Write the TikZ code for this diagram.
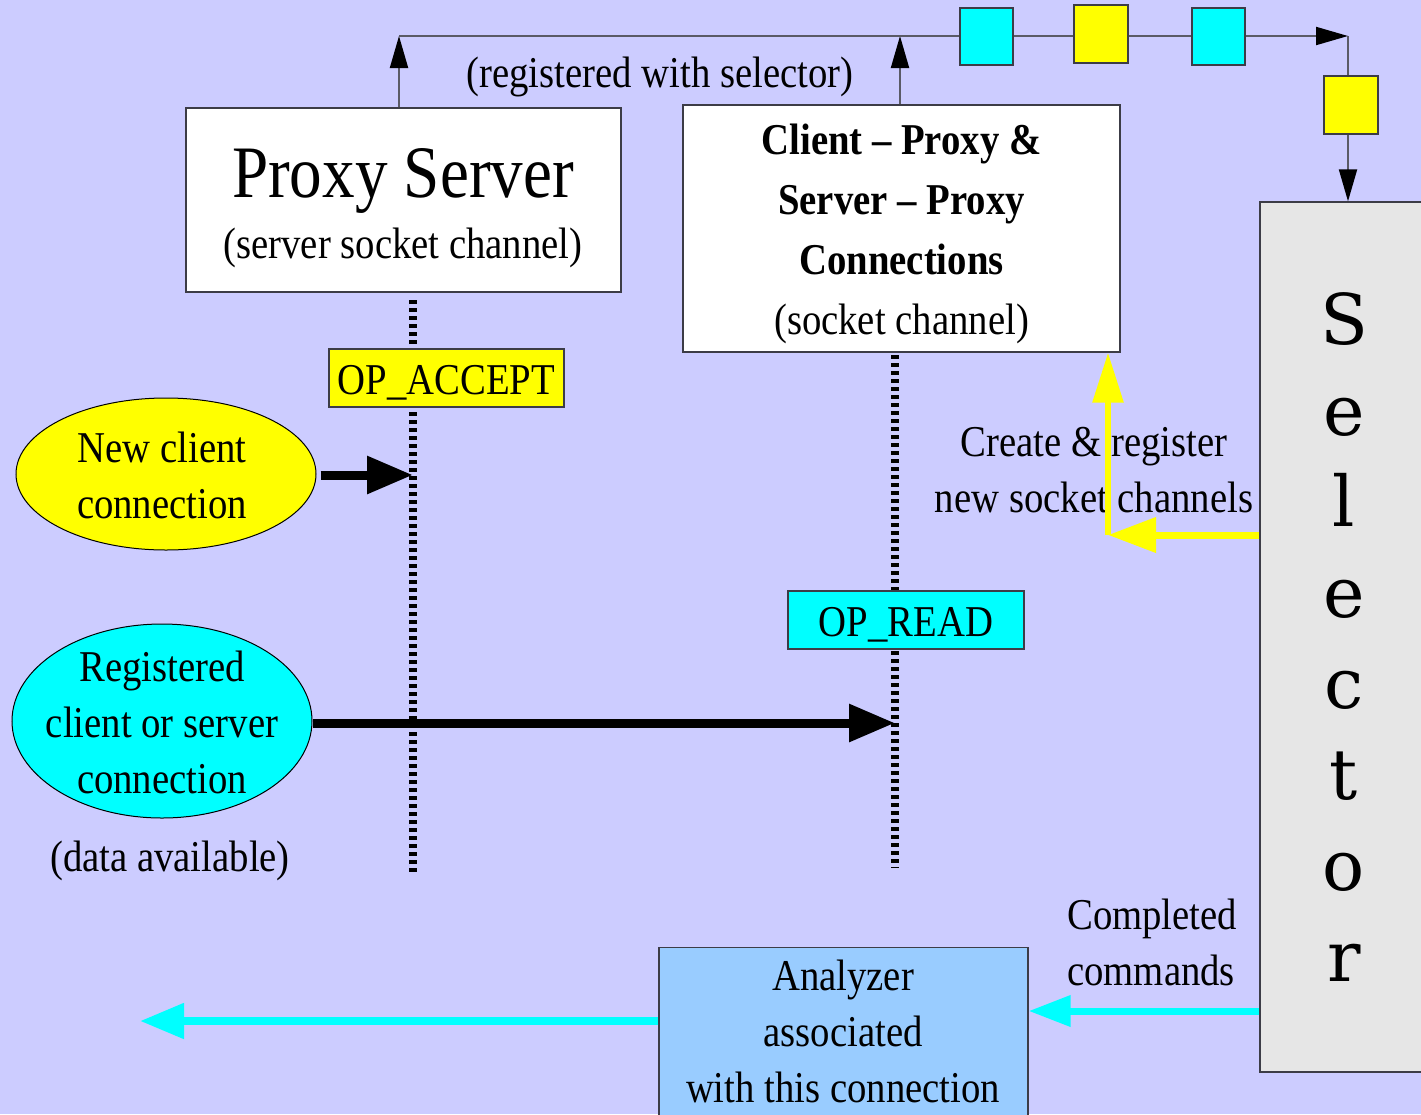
\documentclass[tikz,border=0pt]{standalone}
\usepackage{fontspec}
\setmainfont{Liberation Serif}[FakeStretch=0.88]
\newfontfamily\selfont{DejaVu Serif}
\usetikzlibrary{arrows.meta,shapes.geometric}
\definecolor{bgviolet}{HTML}{CCCCFF}
\definecolor{selgray}{HTML}{E6E6E6}
\definecolor{analyzerblue}{HTML}{99CCFF}
\definecolor{edgegray}{HTML}{3C3C46}
\definecolor{wiregray}{HTML}{5A5A66}
\definecolor{aqua}{HTML}{00FFFF}
\definecolor{lemon}{HTML}{FFFF00}
\tikzset{
  txt/.style={font=\fontsize{44}{56}\selectfont, inner sep=0pt, align=center},
  panel/.style={draw=edgegray, line width=1.3pt, inner sep=0pt},
  chip/.style={panel, minimum width=53pt, minimum height=57pt},
  optag/.style={panel, minimum width=236pt, minimum height=58pt},
  blob/.style={ellipse, draw=black, line width=1pt, inner sep=0pt, minimum width=300pt},
  wire/.style={draw=wiregray, line width=2pt, -{Triangle[length=32pt,width=18pt,black]}},
  lifeline/.style={draw=black, line width=8pt, dash pattern=on 4pt off 4pt},
  fat/.style={draw=black, line width=9pt, -{Triangle[length=46pt,width=36pt]}},
  ylw/.style={draw=lemon, line width=7pt},
  cyn/.style={draw=aqua, line width=8pt, -{Triangle[length=44pt,width=34pt]}}
}
\begin{document}
\begin{tikzpicture}[x=1pt,y=-1pt]
\useasboundingbox (0,0) rectangle (1421,1114);
\fill[bgviolet] (0,0) rectangle (1421,1114);

% channels
\node[panel, fill=white, minimum width=435pt, minimum height=184pt] (ps) at (403.5,200) {};
\node[inner sep=0pt, anchor=base, font=\fontsize{74}{80}\selectfont] (pstitle) at (403,197) {Proxy Server};
\node[inner sep=0pt, anchor=base, font=\fontsize{44}{56}\selectfont] (pssub) at (403,258) {(server socket channel)};

\node[panel, fill=white, minimum width=437pt, minimum height=247pt] (cp) at (901.5,228.5) {};
\node[txt, font=\fontsize{44}{60}\selectfont] (cptext) at (901.5,234)
  {\textbf{Client \textendash{} Proxy \&}\\\textbf{Server \textendash{} Proxy}\\\textbf{Connections}\\(socket channel)};

% selector
\node[panel, fill=selgray, minimum width=168pt, minimum height=870pt, align=center,
      font={\selfont\fontsize{70}{91}\selectfont}] (sel) at (1344,637)
  {S\\e\\l\\e\\c\\t\\o\\r};

% analyzer
\node[panel, fill=analyzerblue, anchor=north, minimum width=369pt, minimum height=260pt] (an) at (843.5,947) {};
\node[txt] (antext) at (843,1031) {Analyzer\\associated\\with this connection};

% lifelines
\coordinate (l1top) at (413,300);
\coordinate (l1bot) at (413,873);
\coordinate (l2top) at (895,355);
\coordinate (l2bot) at (895,868);
\draw[lifeline] (l1top) -- (l1bot);
\draw[lifeline] (l2top) -- (l2bot);
\node[optag, fill=lemon, minimum width=235pt] (accept) at (446.5,378) {};
\node[txt, anchor=base] (accepttext) at (446.5,394) {OP\_ACCEPT};
\node[optag, fill=aqua] (read) at (906,620) {};
\node[txt, anchor=base] (readtext) at (906,636) {OP\_READ};

% event sources
\node[blob, fill=lemon, minimum height=152pt] (newc) at (166,474) {};
\node[txt] (newctext) at (162,475) {New client\\connection};
\node[blob, fill=aqua, minimum height=194pt] (regc) at (162,721) {};
\node[txt] (regctext) at (162,722) {Registered\\client or server\\connection};
\node[txt] (avail) at (170,861) {(data available)};

\coordinate (acceptrow) at (0,475);
\coordinate (readrow) at (0,723);
\draw[fat] ([xshift=4pt]newc.east |- acceptrow) -- (l1top |- acceptrow);
\draw[fat] (regc.east |- readrow) -- (l2top |- readrow);

% registration bus
\coordinate (bus1) at (399,36);
\coordinate (bus2) at (900,36);
\coordinate (busend) at (1348,36);
\draw[wire] (ps.north -| bus1) -- (bus1);
\draw[wire] (cp.north -| bus2) -- (bus2);
\draw[wire] (bus1) -- (busend);
\draw[wire] (busend) -- (sel.north -| busend);
\node[txt] (reglabel) at (660,77) {(registered with selector)};
\node[chip, fill=aqua] (q1) at (986.5,36.5) {};
\node[chip, fill=lemon, minimum width=54pt, minimum height=58pt] (q2) at (1101,34) {};
\node[chip, fill=aqua] (q3) at (1218.5,36.5) {};
\node[chip, fill=lemon, minimum width=54pt, minimum height=58pt] (q4) at (1351,105) {};

% new channels
\node[txt] (create) at (1094,470) {Create \& register\\new socket channels};
\coordinate (ybend) at (1108,535);
\draw[ylw, -{Triangle[length=50pt,width=30pt]}, line width=6pt] (ybend) -- (cp.south -| ybend);
\draw[ylw, -{Triangle[length=48pt,width=34pt]}] (sel.west |- ybend) -- (ybend);

% completed commands
\node[txt, align=left, anchor=west] (done) at (1067,942) {Completed\\commands};
\coordinate (cmdrow) at (0,1011);
\draw[cyn, line width=7pt, -{Triangle[length=42pt,width=30pt]}] (sel.west |- cmdrow) -- (an.east |- cmdrow);
\coordinate (outrow) at (0,1021);
\coordinate (out) at (140,1021);
\draw[cyn] (an.west |- outrow) -- (out);
\end{tikzpicture}
\end{document}
